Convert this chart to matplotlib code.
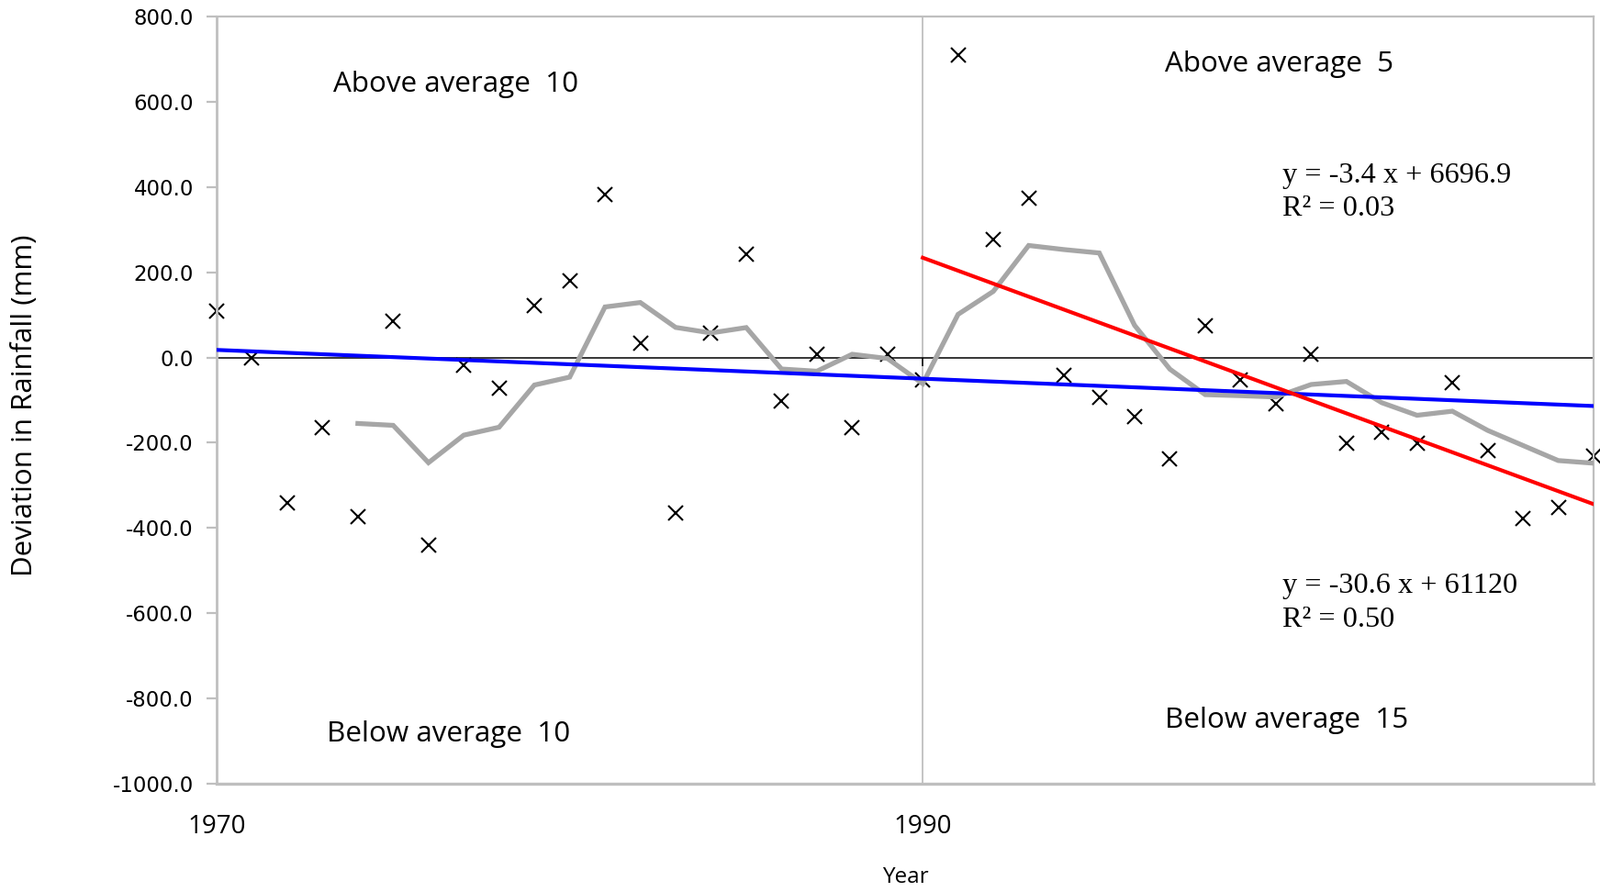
import numpy as np
import pandas as pd
import matplotlib
matplotlib.use("Agg")
import matplotlib.pyplot as plt

years = list(range(1970, 2010))
deviation = [108, -2, -342, -165, -373, 86, -440, -19, -72, 122,
             179, 383, 33, -364, 57, 242, -103, 7, -165, 7,
             -53, 710, 277, 373, -41, -93, -139, -237, 74, -53,
             -108, 7, -201, -175, -201, -60, -218, -378, -352, -232]
ma_window = 5
split_year = 1990
y_ticks = [-1000, -800, -600, -400, -200, 0, 200, 400, 600, 800]
x_ticks = [1970, 1990]
eq_all = ["y = -3.4 x + 6696.9", "R\u00b2 = 0.03"]
eq_recent = ["y = -30.6 x + 61120", "R\u00b2 = 0.50"]
counts = {"above_early": "Above average  10", "below_early": "Below average  10",
          "above_late": "Above average  5", "below_late": "Below average  15"}

x = np.array(years, dtype=float)
y = np.array(deviation, dtype=float)
ma = pd.Series(y).rolling(ma_window).mean().to_numpy()

fig = plt.figure(figsize=(17.43, 9.72), dpi=100)
ax = fig.add_axes([236 / 1743, 1 - 854 / 972, 1500 / 1743, 836 / 972])

ax.set_xlim(1970, 2009)
ax.set_ylim(-1000, 800)

grey = "#BFBFBF"
for s in ax.spines.values():
    s.set_color(grey)
    s.set_linewidth(1.6)
ax.spines["bottom"].set_linewidth(2.4)
ax.spines["left"].set_linewidth(2.0)

ax.axvline(split_year, color=grey, lw=1.3, zorder=1)
ax.axhline(0, color="black", lw=1.1, zorder=1)
ax.vlines(x_ticks, -20, 0, color="black", lw=1.1, zorder=1)

ax.plot(x, y, linestyle="none", marker="x", color="black", markersize=11,
        markeredgewidth=1.5, zorder=2, clip_on=False)
ax.plot(x, ma, color="#A6A6A6", lw=3.8, zorder=3, solid_joinstyle="miter")

p_all = np.polyfit(x, y, 1)
ax.plot(x, np.polyval(p_all, x), color="#0000FF", lw=3.0, zorder=4)
m = x >= split_year
p_rec = np.polyfit(x[m], y[m], 1)
ax.plot(x[m], np.polyval(p_rec, x[m]), color="#FF0000", lw=3.0, zorder=4)

ax.set_yticks(y_ticks)
ax.set_yticklabels([f"{v:.1f}" for v in y_ticks])
ax.tick_params(axis="y", direction="out", length=8, width=1.6, color=grey,
               labelsize=16.5, pad=10)
ax.set_xticks(x_ticks)
ax.set_xticklabels([str(v) for v in x_ticks], fontfamily="Open Sans", fontsize=20)
ax.tick_params(axis="x", length=0, pad=24)

ax.set_xlabel("Year", fontfamily="Open Sans", fontsize=17.5, va="center")
ax.xaxis.set_label_coords(0.5, -0.122)
ax.set_ylabel("Deviation in Rainfall (mm)", fontfamily="Open Sans", fontsize=22.5,
              va="center", ha="center")
ax.yaxis.set_label_coords(-0.139, 0.493)

lab = dict(fontfamily="Open Sans", fontsize=22.6, ha="left", va="baseline", color="black")
ax.text(1973.3, 624, counts["above_early"], **lab)
ax.text(1973.12, -902, counts["below_early"], **lab)
ax.text(1996.86, 670, counts["above_late"], **lab)
ax.text(1996.86, -868, counts["below_late"], **lab)

eq = dict(fontfamily="Liberation Serif", fontsize=23.2, ha="left", va="baseline", color="black")
ax.text(2000.18, 411, eq_all[0], **eq)
ax.text(2000.18, 332, eq_all[1], **eq)
ax.text(2000.18, -553, eq_recent[0], **eq)
ax.text(2000.18, -631, eq_recent[1], **eq)

fig.savefig("out.png", dpi=100)
